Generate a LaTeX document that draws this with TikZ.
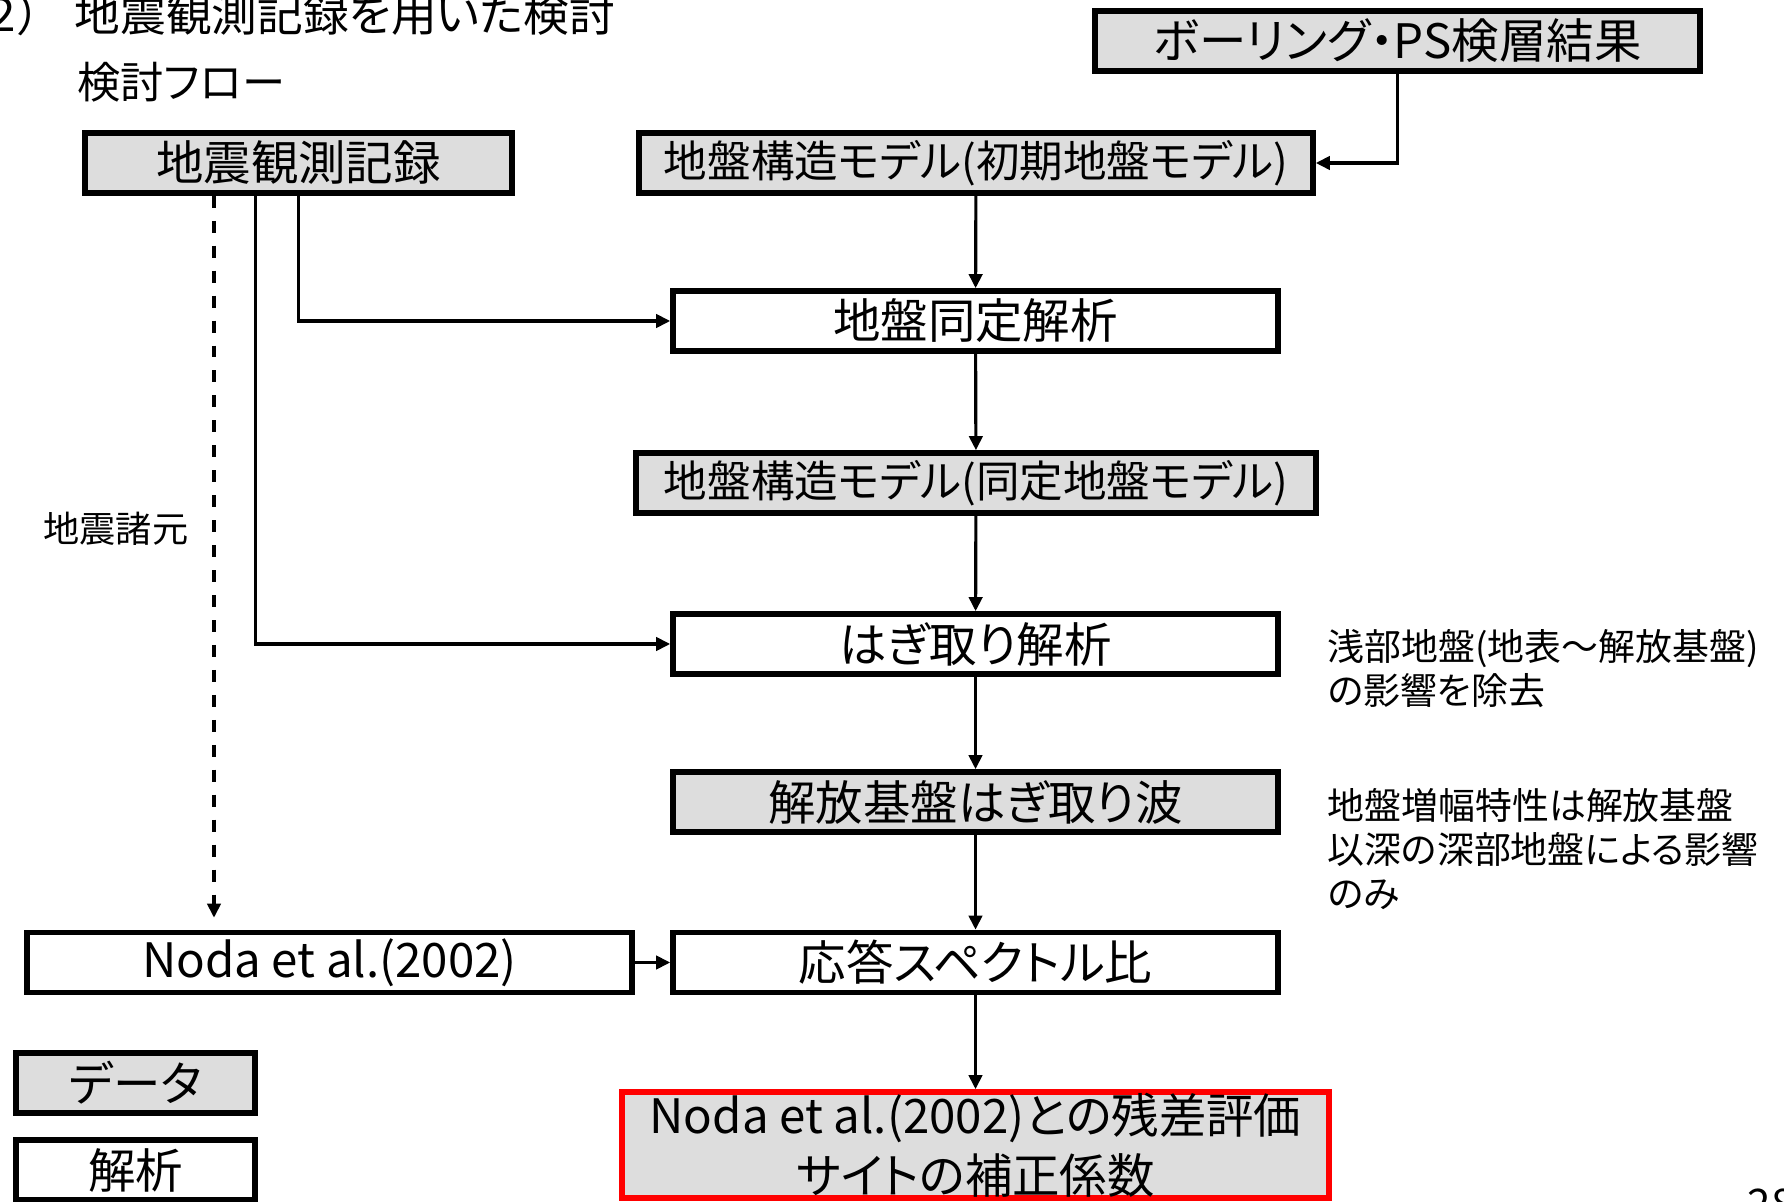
\documentclass[tikz,border=0pt]{standalone}
\usepackage{fontspec}
\setmainfont{Noto Sans CJK JP}[RawFeature=+palt]
\usetikzlibrary{arrows.meta}

\definecolor{boxgray}{RGB}{221,221,221}
\definecolor{resred}{RGB}{255,0,0}

\tikzset{
  box/.style={draw, line width=1.6pt, minimum height=0.6cm, inner sep=0pt,
    font=\fontsize{13.5}{16}\selectfont},
  databox/.style={box, fill=boxgray},
  conn/.style={line width=0.9pt, -{Triangle[length=4pt,width=3.8pt]}},
  note/.style={align=left, inner sep=0pt, font=\fontsize{10.5}{12.5}\selectfont},
}

\begin{document}
\begin{tikzpicture}
\useasboundingbox (0,0) rectangle (17.84,-12.02);

% headings
\node[anchor=east, inner sep=0pt, font=\fontsize{13}{15}\selectfont] (num) at (0.42,-0.14) {（２）};
\node[anchor=west, inner sep=0pt, font=\fontsize{13}{15}\selectfont] (title) at (0.74,-0.14) {地震観測記録を用いた検討};
\node[anchor=west, inner sep=0pt, font=\fontsize{12.3}{15}\selectfont] (flow) at (0.77,-0.82) {検討フロー};

% data and analysis boxes
\node[databox, minimum width=4.27cm] (obs) at (2.985,-1.63) {地震観測記録};
\node[databox, minimum width=6.05cm] (bor) at (13.975,-0.41) {ボーリング・PS検層結果};

\begin{scope}[every node/.style={minimum width=6.05cm}]
\node[databox, minimum width=6.74cm, font=\fontsize{12.4}{15}\selectfont] (ini) at (9.76,-1.63) {地盤構造モデル(初期地盤モデル)};
\node[box] (idn) at (9.755,-3.21) {地盤同定解析};
\node[databox, minimum width=6.80cm, font=\fontsize{12.4}{15}\selectfont] (idm) at (9.76,-4.83) {地盤構造モデル(同定地盤モデル)};
\node[box] (stp) at (9.755,-6.44) {はぎ取り解析};
\node[databox] (wav) at (9.755,-8.02) {解放基盤はぎ取り波};
\node[box] (rat) at (9.755,-9.625) {応答スペクトル比};
\node[box] (nod) at (3.295,-9.625) {Noda et al.(2002)};
\node[databox, draw=resred, minimum width=7.07cm, minimum height=1.06cm, align=center,
  font=\fontsize{13.5}{17}\selectfont] (res) at (9.755,-11.45) {Noda et al.(2002)との残差評価\\サイトの補正係数};
\end{scope}

% legend
\node[databox, minimum width=2.39cm] (legd) at (1.355,-10.83) {データ};
\node[box, minimum width=2.39cm] (lega) at (1.355,-11.70) {解析};

% notes
\node[note, anchor=west] (n1) at (13.27,-6.69) {浅部地盤(地表～解放基盤)\\の影響を除去};
\node[note, anchor=west] (n2) at (13.27,-8.495) {地盤増幅特性は解放基盤\\以深の深部地盤による影響\\のみ};
\node[note, anchor=east, font=\fontsize{10.3}{12}\selectfont] (src) at (1.89,-5.29) {地震諸元};
\node[anchor=north west, inner sep=0pt, font=\fontsize{12}{14}\selectfont] (pg) at (17.47,-11.88) {28};

% connectors
\coordinate (k) at (2.14,0);
\draw[conn] (bor.south) |- (ini.east);
\draw[conn] (ini) -- (idn);
\draw[conn] (idn) -- (idm);
\draw[conn] (idm) -- (stp);
\draw[conn] (stp) -- (wav);
\draw[conn] (wav) -- (rat);
\draw[conn] (rat) -- (res);
\draw[conn] (obs.south) |- (idn.west);
\draw[conn] ([xshift=-0.43cm]obs.south) |- (stp.west);
\draw[conn, dash pattern=on 3.4pt off 3.7pt, shorten >=1.2mm] (obs.south -| k) -- (nod.north -| k);
\draw[conn] (nod) -- (rat);

\end{tikzpicture}
\end{document}
